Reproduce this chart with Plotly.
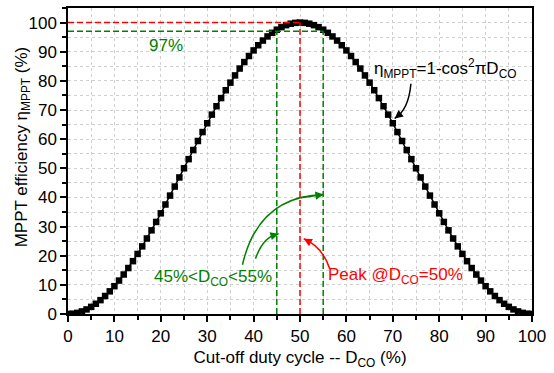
import plotly.graph_objects as go

# Cut-off duty cycle D_CO (%) and MPPT efficiency (%) = 1 - cos^2(pi*D_CO)
duty = list(range(0, 101))
efficiency = [
    0.00, 0.10, 0.39, 0.89, 1.57, 2.45, 3.51, 4.76, 6.18, 7.78,
    9.55, 11.47, 13.55, 15.77, 18.13, 20.61, 23.21, 25.91, 28.71, 31.59,
    34.55, 37.57, 40.63, 43.73, 46.86, 50.00, 53.14, 56.27, 59.37, 62.43,
    65.45, 68.41, 71.29, 74.09, 76.79, 79.39, 81.87, 84.23, 86.45, 88.53,
    90.45, 92.22, 93.82, 95.24, 96.49, 97.55, 98.43, 99.11, 99.61, 99.90,
    100.00,
    99.90, 99.61, 99.11, 98.43, 97.55, 96.49, 95.24, 93.82, 92.22, 90.45,
    88.53, 86.45, 84.23, 81.87, 79.39, 76.79, 74.09, 71.29, 68.41, 65.45,
    62.43, 59.37, 56.27, 53.14, 50.00, 46.86, 43.73, 40.63, 37.57, 34.55,
    31.59, 28.71, 25.91, 23.21, 20.61, 18.13, 15.77, 13.55, 11.47, 9.55,
    7.78, 6.18, 4.76, 3.51, 2.45, 1.57, 0.89, 0.39, 0.10, 0.00,
]

peak_duty = 50
peak_eff = 100
band_low, band_high = 45, 55
band_eff = 97

tick_vals = [0, 10, 20, 30, 40, 50, 60, 70, 80, 90, 100]

RED = "#ff0000"
GREEN = "#008000"
FONT = "Liberation Sans, Arial, sans-serif"

fig = go.Figure()

fig.add_trace(go.Scatter(
    x=duty, y=efficiency, mode="lines+markers",
    line=dict(color="black", width=1.5),
    marker=dict(symbol="square", size=6.5, color="black"),
    showlegend=False, hoverinfo="skip",
))

# Reference guides for the peak and the 97 % band
dash = "6px,3px"
fig.add_shape(type="line", x0=0, x1=peak_duty, y0=peak_eff, y1=peak_eff,
              line=dict(color=RED, width=1.5, dash=dash))
fig.add_shape(type="line", x0=peak_duty, x1=peak_duty, y0=0, y1=peak_eff,
              line=dict(color=RED, width=1.5, dash=dash))
fig.add_shape(type="line", x0=0, x1=band_high, y0=band_eff, y1=band_eff,
              line=dict(color=GREEN, width=1.5, dash=dash))
for xd in (band_low, band_high):
    fig.add_shape(type="line", x0=xd, x1=xd, y0=0, y1=band_eff,
                  line=dict(color=GREEN, width=1.5, dash=dash))


def curved_arrow(p0, c, p1, color):
    """Quadratic curve from p0 to p1 with an arrowhead at p1."""
    fig.add_shape(type="path", xref="x", yref="y",
                  path=f"M {p0[0]},{p0[1]} Q {c[0]},{c[1]} {p1[0]},{p1[1]}",
                  line=dict(color=color, width=1.5))
    t = 0.8
    bx = (1 - t) ** 2 * p0[0] + 2 * (1 - t) * t * c[0] + t ** 2 * p1[0]
    by = (1 - t) ** 2 * p0[1] + 2 * (1 - t) * t * c[1] + t ** 2 * p1[1]
    fig.add_annotation(x=p1[0], y=p1[1], ax=bx, ay=by, axref="x", ayref="y",
                       xref="x", yref="y", text="", showarrow=True,
                       arrowhead=2, arrowsize=1.1, arrowwidth=1.5,
                       arrowcolor=color, standoff=0)


curved_arrow((40.4, 19.0), (42.2, 26.8), (45.4, 27.5), GREEN)
curved_arrow((37.6, 16.9), (41.0, 40.4), (55.1, 41.0), GREEN)
curved_arrow((56.4, 15.5), (54.9, 23.0), (50.8, 25.8), RED)
curved_arrow((73.9, 79.0), (73.4, 70.0), (70.4, 67.1), "black")

fig.add_annotation(x=21.2, y=92.3, text="97%", showarrow=False,
                   font=dict(family=FONT, size=17, color=GREEN))
fig.add_annotation(x=81.3, y=84.1,
                   text="η<sub>MPPT</sub>=1-cos<sup>2</sup>πD<sub>CO</sub>",
                   showarrow=False, font=dict(family=FONT, size=17, color="black"))
fig.add_annotation(x=31.3, y=12.5, text="45%<D<sub>CO</sub><55%",
                   showarrow=False, font=dict(family=FONT, size=17, color=GREEN))
fig.add_annotation(x=70.6, y=13.1, text="Peak @D<sub>CO</sub>=50%",
                   showarrow=False, font=dict(family=FONT, size=17, color=RED))

# y-axis title
fig.add_annotation(xref="paper", yref="paper", x=-0.097, y=0.548,
                   xanchor="center", yanchor="middle",
                   text="MPPT efficiency η<sub>MPPT</sub> (%)", textangle=-90,
                   showarrow=False, font=dict(family=FONT, size=17, color="black"))

grid = dict(showgrid=True, gridcolor="#cfcfcf", gridwidth=1, griddash="3px,3px")

fig.update_xaxes(
    range=[0, 100], tickvals=tick_vals, ticks="outside", ticklen=6,
    tickwidth=1.5, tickcolor="black", showline=True, linecolor="black",
    linewidth=1.5, mirror=True, zeroline=False,
    tickfont=dict(family=FONT, size=17, color="black"),
    title=dict(text="Cut-off duty cycle -- D<sub>CO</sub> (%)",
               font=dict(family=FONT, size=17, color="black"), standoff=6),
    minor=dict(dtick=5, tick0=0, ticks="outside", ticklen=4, tickwidth=1.5,
               tickcolor="black", **grid),
    **grid,
)
fig.update_yaxes(
    range=[0, 105], tickvals=tick_vals, ticks="outside", ticklen=6,
    tickwidth=1.5, tickcolor="black", showline=True, linecolor="black",
    linewidth=1.5, mirror=True, zeroline=False,
    tickfont=dict(family=FONT, size=17, color="black"),
    minor=dict(dtick=5, tick0=0, ticks="outside", ticklen=4, tickwidth=1.5,
               tickcolor="black", **grid),
    **grid,
)

fig.update_layout(
    width=554, height=373,
    margin=dict(l=68, r=22, t=6, b=59),
    plot_bgcolor="white", paper_bgcolor="white",
    font=dict(family=FONT, size=17, color="black"),
)

fig.write_html("out.html")
